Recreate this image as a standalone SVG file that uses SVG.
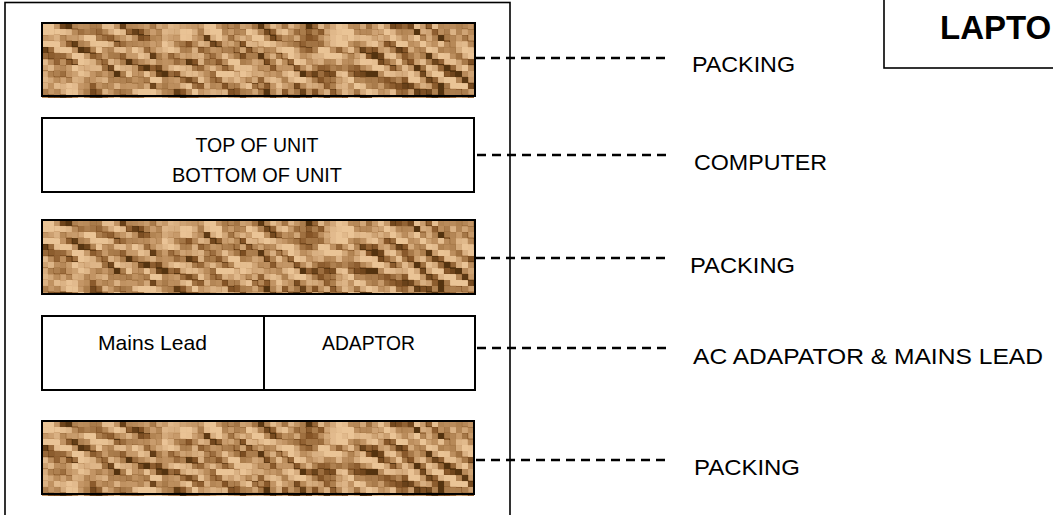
<svg xmlns="http://www.w3.org/2000/svg" xmlns:xlink="http://www.w3.org/1999/xlink" width="1053" height="515" viewBox="0 0 1053 515">
  <style>
    .box { fill: none; stroke: #000; stroke-width: 2; }
    .wbox { fill: #fff; stroke: #000; stroke-width: 2; }
    .outer { fill: #fff; stroke: #000; stroke-width: 1.6; }
    .conn { fill: none; stroke: #000; stroke-width: 2.4; stroke-dasharray: 9 6; }
    .lbl { font-family: "Liberation Sans", Arial, sans-serif; font-size: 22px; fill: #000; }
    .in { font-family: "Liberation Sans", Arial, sans-serif; font-size: 21px; fill: #000; text-anchor: middle; }
    .title { font-family: "Liberation Sans", Arial, sans-serif; font-size: 33px; font-weight: bold; fill: #000; }
  </style>
  <defs>
    <filter id="noise" x="0" y="0" width="1" height="1" color-interpolation-filters="sRGB">
      <feTurbulence type="fractalNoise" baseFrequency="0.028 0.12" numOctaves="3" seed="11"/>
      <feColorMatrix type="matrix" values="2.5 0 0 0 -0.75  2.5 0 0 0 -0.75  2.5 0 0 0 -0.75  0 0 0 0 1"/>
      <feComponentTransfer>
        <feFuncR type="table" tableValues="0.33 0.52 0.66 0.76 0.86 0.92"/>
        <feFuncG type="table" tableValues="0.20 0.33 0.48 0.58 0.70 0.77"/>
        <feFuncB type="table" tableValues="0.06 0.15 0.29 0.39 0.52 0.59"/>
      </feComponentTransfer>
    </filter>
    <filter id="pix" filterUnits="userSpaceOnUse" x="0" y="0" width="434" height="75" color-interpolation-filters="sRGB">
      <feFlood x="2" y="2" width="2" height="2" flood-color="#000"/>
      <feComposite width="6" height="6"/>
      <feTile result="grid"/>
      <feComposite in="SourceGraphic" in2="grid" operator="in"/>
      <feMorphology operator="dilate" radius="2"/>
    </filter>
    <g id="packTex">
      <g filter="url(#pix)">
        <rect transform="rotate(30)" x="-50" y="-260" width="560" height="380" fill="#b88c5c" filter="url(#noise)"/>
      </g>
    </g>
  </defs>

  <g id="outer-box">
    <rect class="outer" x="5" y="2.5" width="505" height="530"/>
  </g>

  <g id="title">
    <rect class="outer" x="884" y="-4" width="200" height="72"/>
    <text class="title" x="940" y="39">LAPTO</text>
  </g>

  <g id="packing-1">
    <use xlink:href="#packTex" x="42" y="23"/>
    <rect class="box" x="42" y="23" width="433" height="73"/>
  </g>

  <g id="computer">
    <rect class="wbox" x="42" y="118" width="432" height="74"/>
    <text class="in" x="257" y="152" textLength="123" lengthAdjust="spacingAndGlyphs">TOP OF UNIT</text>
    <text class="in" x="257" y="182" textLength="170" lengthAdjust="spacingAndGlyphs">BOTTOM OF UNIT</text>
  </g>

  <g id="packing-2">
    <use xlink:href="#packTex" x="42" y="220"/>
    <rect class="box" x="42" y="220" width="433" height="74"/>
  </g>

  <g id="ac-adaptor">
    <rect class="wbox" x="42" y="316" width="433" height="74"/>
    <line x1="264" y1="316" x2="264" y2="390" stroke="#000" stroke-width="2"/>
    <text class="in" x="152.5" y="350" textLength="109" lengthAdjust="spacingAndGlyphs">Mains Lead</text>
    <text class="in" x="368.5" y="350" textLength="93" lengthAdjust="spacingAndGlyphs">ADAPTOR</text>
  </g>

  <g id="packing-3">
    <use xlink:href="#packTex" x="42" y="421"/>
    <rect class="box" x="42" y="421" width="432" height="73"/>
  </g>

  <g id="connectors">
    <line class="conn" x1="476" y1="58" x2="666" y2="58"/>
    <line class="conn" x1="477" y1="155" x2="667" y2="155"/>
    <line class="conn" x1="476" y1="258" x2="666" y2="258"/>
    <line class="conn" x1="477" y1="348" x2="667" y2="348"/>
    <line class="conn" x1="476" y1="460" x2="666" y2="460"/>
  </g>

  <g id="labels">
    <text class="lbl" x="692" y="72" textLength="103" lengthAdjust="spacingAndGlyphs">PACKING</text>
    <text class="lbl" x="694" y="170" textLength="133" lengthAdjust="spacingAndGlyphs">COMPUTER</text>
    <text class="lbl" x="690" y="273" textLength="105" lengthAdjust="spacingAndGlyphs">PACKING</text>
    <text class="lbl" x="693" y="364" textLength="350" lengthAdjust="spacingAndGlyphs">AC ADAPATOR &amp; MAINS LEAD</text>
    <text class="lbl" x="694" y="475" textLength="106" lengthAdjust="spacingAndGlyphs">PACKING</text>
  </g>
</svg>
